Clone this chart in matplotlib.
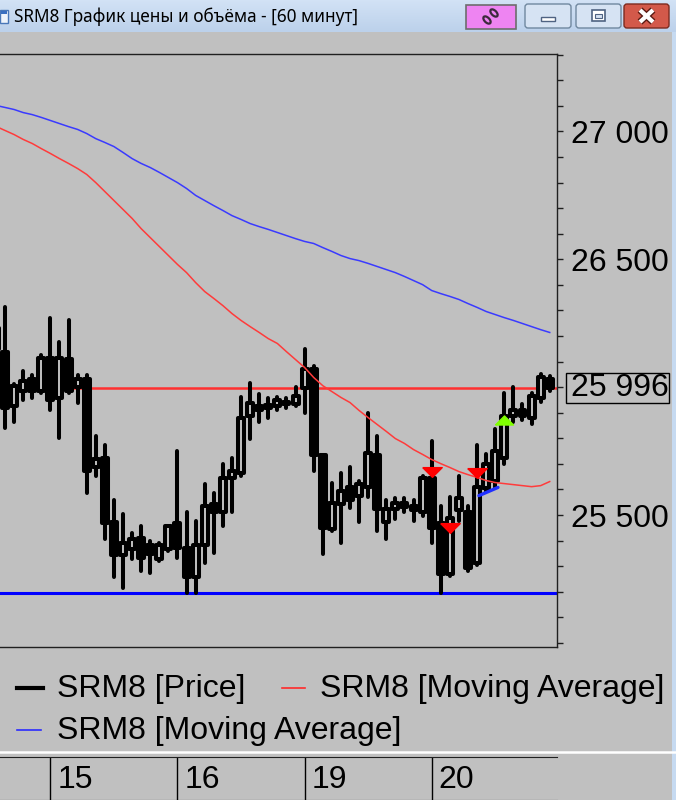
import matplotlib
matplotlib.use("Agg")
import matplotlib.pyplot as plt
import matplotlib.transforms as mtransforms
from matplotlib.patches import Rectangle, FancyBboxPatch, Ellipse
from matplotlib.ticker import FixedLocator, MultipleLocator, FuncFormatter
from matplotlib.colors import LinearSegmentedColormap
import numpy as np

# hourly bars, index 0 = first bar of the 15th
bar_idx = list(range(-6, 56))
opens = [26230, 26136, 25928, 25987, 26034, 25987, 26116, 25956, 26112, 25999,
         26034, 25686, 25725, 25471, 25342, 25369, 25412, 25381, 25330, 25369,
         25467, 25373, 25256, 25381, 25545, 25510, 25643, 25666, 25889, 25928,
         25917, 25928, 25936, 25936, 25995, 26073, 25733, 25447, 25545, 25608,
         25576, 25608, 25733, 25471, 25525, 25549, 25537, 25510, 25643, 25467,
         25271, 25518, 25510, 25314, 25604, 25635, 25725, 25889, 25909, 25878,
         25956, 26034]
highs = [26290, 26312, 26014, 26065, 26046, 26124, 26272, 26175, 26261, 26046,
         26046, 25811, 25772, 25557, 25506, 25428, 25459, 25400, 25389, 25459,
         25752, 25510, 25478, 25623, 25588, 25701, 25725, 25960, 26018, 25975,
         25956, 25963, 25956, 25999, 26151, 26081, 25733, 25627, 25666, 25686,
         25635, 25901, 25811, 25557, 25565, 25568, 25557, 25651, 25791, 25537,
         25569, 25651, 25537, 25772, 25740, 25838, 25979, 25999, 25936, 25979,
         26053, 26042]
lows = [26120, 25842, 25862, 25948, 25956, 25979, 25909, 25803, 25979, 25940,
        25588, 25654, 25408, 25256, 25213, 25330, 25283, 25275, 25322, 25361,
        25334, 25197, 25197, 25314, 25353, 25459, 25510, 25654, 25799, 25862,
        25881, 25909, 25917, 25928, 25901, 25674, 25349, 25439, 25392, 25529,
        25471, 25569, 25439, 25408, 25486, 25510, 25478, 25498, 25392, 25194,
        25263, 25478, 25283, 25303, 25596, 25608, 25701, 25862, 25870, 25858,
        25944, 25987]
closes = [26150, 25920, 26003, 26026, 25987, 26116, 25948, 26116, 25987, 26034,
          25674, 25721, 25467, 25342, 25392, 25408, 25334, 25349, 25381, 25459,
          25373, 25256, 25381, 25537, 25510, 25643, 25674, 25881, 25940, 25909,
          25932, 25948, 25944, 25967, 26073, 25733, 25451, 25549, 25596, 25557,
          25623, 25741, 25525, 25525, 25549, 25533, 25518, 25643, 25451, 25271,
          25490, 25565, 25291, 25608, 25701, 25752, 25889, 25909, 25889, 25967,
          26038, 25996]
ma_fast = [27020, 27004, 26988, 26969, 26953, 26933, 26914, 26894, 26875, 26855,
           26832, 26800, 26765, 26730, 26695, 26660, 26620, 26585, 26550, 26515,
           26480, 26448, 26409, 26374, 26347, 26319, 26288, 26261, 26237, 26214,
           26190, 26171, 26139, 26108, 26077, 26038, 26006, 25983, 25960, 25940,
           25909, 25881, 25854, 25827, 25799, 25780, 25756, 25737, 25717, 25701,
           25686, 25670, 25658, 25647, 25635, 25627, 25623, 25619, 25615, 25611,
           25615, 25631]
ma_slow = [27102, 27094, 27086, 27074, 27066, 27055, 27043, 27031, 27019, 27008,
           26992, 26972, 26957, 26941, 26918, 26894, 26875, 26859, 26840, 26820,
           26800, 26777, 26750, 26730, 26710, 26691, 26671, 26656, 26640, 26628,
           26617, 26605, 26593, 26581, 26570, 26562, 26546, 26531, 26515, 26503,
           26495, 26484, 26472, 26460, 26448, 26433, 26417, 26401, 26378, 26366,
           26355, 26343, 26327, 26312, 26296, 26284, 26272, 26261, 26249, 26237,
           26225, 26214]
last_price = 25996
range_low = 25195
sell_idx = [42, 44, 47]
sell_price = [25670, 25449, 25666]
buy_idx = [50]
buy_price = [25872]
seg_idx = [47.2, 49.3]
seg_price = [25576, 25608]
day_starts = [0, 14, 28, 42]
day_labels = ['15', '16', '19', '20']
y_labels = [25500, 26500, 27000]

BG = '#c0c0c0'
W, H = 676, 800
XLIM = (-5.55, 55.8)
YLIM = (24984, 27303)
SANS = ['Liberation Sans', 'DejaVu Sans']
BIG = 23
CANDLE_LW = 2.9


def px_rect(x0, y0, x1, y1):
    return [x0 / W, 1 - y1 / H, (x1 - x0) / W, (y1 - y0) / H]


def fmt_price(v, pos=None):
    return f"{int(round(v)):,}".replace(',', ' ')


fig = plt.figure(figsize=(W / 100, H / 100), dpi=100, facecolor=BG)

# window chrome (title bar, buttons, legend, separators) in pixel coords
chrome = fig.add_axes([0, 0, 1, 1])
chrome.axis('off')
bar_cmap = LinearSegmentedColormap.from_list('bar', ['#d2e2f5', '#bcd1eb'])
chrome.imshow(np.linspace(0, 1, 32).reshape(-1, 1), cmap=bar_cmap,
              extent=(0, W, 32, 0), aspect='auto')
chrome.add_patch(Rectangle((0, 10), 8, 13, fc='#eef4fb', ec='#4a78b8', lw=1))
chrome.add_patch(Rectangle((1, 11), 6, 3, fc='#3a6fc0', lw=0))
chrome.text(14, 17, 'SRM8 График цены и объёма - [60 минут]', fontsize=12.4,
            family=['Noto Sans', 'DejaVu Sans'], va='center', ha='left', color='black')

chrome.add_patch(Rectangle((466, 5), 50, 24, fc='#ee84f2', ec='#6d6d6d', lw=1.2))
chrome.add_patch(Ellipse((487, 20), 5, 9, angle=-45, fc='none', ec='#3c2a3c', lw=1.6))
chrome.add_patch(Ellipse((494, 13), 5, 9, angle=-45, fc='none', ec='#3c2a3c', lw=1.6))

btn_style = 'round,pad=0,rounding_size=3'
chrome.add_patch(FancyBboxPatch((525, 4), 46, 24, boxstyle=btn_style,
                                fc='#d6e3f3', ec='#70889f', lw=1))
chrome.add_patch(Rectangle((541, 17), 14, 4, fc='white', ec='#4f6382', lw=1))
chrome.add_patch(FancyBboxPatch((576, 4), 45, 24, boxstyle=btn_style,
                                fc='#d6e3f3', ec='#70889f', lw=1))
chrome.add_patch(Rectangle((592, 10), 13, 11, fc='white', ec='#4f6382', lw=1.2))
chrome.add_patch(Rectangle((595, 14), 7, 4, fc='#d6e3f3', ec='#4f6382', lw=0.8))
chrome.add_patch(FancyBboxPatch((624, 4), 45, 24, boxstyle=btn_style,
                                fc='#d3594a', ec='#7d2a1e', lw=1))
chrome.plot([640, 653], [10, 22], color='#5a1a12', lw=5, solid_capstyle='butt')
chrome.plot([640, 653], [22, 10], color='#5a1a12', lw=5, solid_capstyle='butt')
chrome.plot([640, 653], [10, 22], color='white', lw=3, solid_capstyle='butt')
chrome.plot([640, 653], [22, 10], color='white', lw=3, solid_capstyle='butt')

# right window border
chrome.add_patch(Rectangle((672, 32), 4, H - 32, fc='#c6daf1', lw=0))

# legend
chrome.plot([17, 43], [688, 688], color='black', lw=3)
chrome.text(57, 689, 'SRM8 [Price]', fontsize=BIG, family=SANS, va='center')
chrome.plot([282, 305], [688, 688], color='#ff2b2b', lw=1.2)
chrome.text(320, 689, 'SRM8 [Moving Average]', fontsize=BIG, family=SANS, va='center')
chrome.plot([17, 41], [730, 730], color='#2b2bff', lw=1.2)
chrome.text(57, 731, 'SRM8 [Moving Average]', fontsize=BIG, family=SANS, va='center')
chrome.plot([0, W], [752, 752], color='white', lw=1.8)

chrome.set_xlim(0, W)
chrome.set_ylim(H, 0)

# price chart
ax = fig.add_axes(px_rect(0, 54, 557, 647), facecolor=BG)
ax.set_xlim(*XLIM)
ax.set_ylim(*YLIM)

ax.axhline(last_price, color='#ff3030', lw=1.8, zorder=2)
ax.axhline(range_low, color='#0000ff', lw=2.2, zorder=2)

ax.vlines(bar_idx, lows, highs, color='black', lw=CANDLE_LW, capstyle='round', zorder=3)
for j, o, c in zip(bar_idx, opens, closes):
    face = BG if c >= o else 'black'
    ax.add_patch(Rectangle((j - 0.33, min(o, c)), 0.66, max(abs(c - o), 2),
                           fc=face, ec='black', lw=CANDLE_LW, joinstyle='round', zorder=4))

ax.plot(bar_idx, ma_fast, color='#ff3b3b', lw=1.1, zorder=5)
ax.plot(bar_idx, ma_slow, color='#3a3aff', lw=1.1, zorder=5)
ax.plot(seg_idx, seg_price, color='#1f2fff', lw=2.4, solid_capstyle='round', zorder=5)

down_tri = [(-1, 0.5), (1, 0.5), (0, -0.5), (-1, 0.5)]
up_tri = [(-1, -0.5), (1, -0.5), (0, 0.5), (-1, -0.5)]
ax.plot(sell_idx, sell_price, ls='none', marker=down_tri, ms=14,
        mfc='#ff0000', mec='#ff0000', zorder=6)
ax.plot(buy_idx, buy_price, ls='none', marker=up_tri, ms=13,
        mfc='#80ff00', mec='#80ff00', zorder=6)

ax.spines['left'].set_visible(False)
for side in ['top', 'bottom', 'right']:
    ax.spines[side].set_color('#202020')
    ax.spines[side].set_linewidth(1.0)
ax.set_xticks([])
ax.yaxis.tick_right()
ax.yaxis.set_major_locator(FixedLocator(y_labels))
ax.yaxis.set_major_formatter(FuncFormatter(fmt_price))
ax.yaxis.set_minor_locator(MultipleLocator(100))
ax.tick_params(axis='y', which='both', direction='out', length=4, width=1,
               color='#202020', pad=6)
for lab in ax.get_yticklabels():
    lab.set_fontsize(BIG)
    lab.set_family(SANS)

# last price box on the axis
ppu = (647 - 54) / (YLIM[1] - YLIM[0])
half = 15 / ppu
blend = mtransforms.blended_transform_factory(ax.transAxes, ax.transData)
ax.add_patch(Rectangle((1 + 9 / 557, last_price - half), 103 / 557, 2 * half,
                       transform=blend, fc='none', ec='black', lw=1, clip_on=False))
ax.text(1 + 14 / 557, last_price, fmt_price(last_price), transform=blend,
        fontsize=BIG, family=SANS, va='center', ha='left')

# date scale
dax = fig.add_axes(px_rect(0, 757, 557, 800), facecolor=BG)
dax.set_xlim(*XLIM)
dax.set_ylim(0, 1)
for j in day_starts:
    dax.axvline(j, color='black', lw=1)
dblend = mtransforms.blended_transform_factory(dax.transData, dax.transAxes)
for j, lab in zip(day_starts, day_labels):
    dax.text(j + 0.75, 0.47, lab, transform=dblend, fontsize=BIG, family=SANS,
             va='center', ha='left')
dax.set_xticks([])
dax.set_yticks([])
for side in ['left', 'right']:
    dax.spines[side].set_visible(False)
for side in ['top', 'bottom']:
    dax.spines[side].set_color('#202020')

fig.savefig('out.png', dpi=100, facecolor=BG)
